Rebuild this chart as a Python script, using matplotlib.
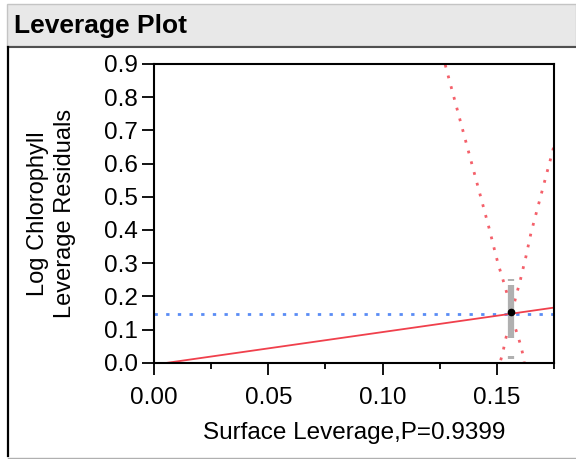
import matplotlib
matplotlib.use("Agg")
import matplotlib.pyplot as plt
from matplotlib.patches import Rectangle
from matplotlib.lines import Line2D
from matplotlib.ticker import MultipleLocator

plt.rcParams['font.family'] = ['Liberation Sans', 'DejaVu Sans']

# values
mean_y = 0.148
reg_x = [0.0, 0.175]
reg_y = [-0.006, 0.166]
point_x = 0.1563
point_y = 0.1536
upper_x = [0.1262, 0.1277, 0.1467, 0.1493, 0.1507, 0.1522, 0.1537, 0.1551, 0.1564,
           0.1576, 0.1588, 0.1602, 0.1614, 0.1627, 0.1649, 0.1743, 0.1760]
upper_y = [0.930, 0.890, 0.403, 0.331, 0.294, 0.261, 0.226, 0.192, 0.172,
           0.179, 0.211, 0.247, 0.282, 0.319, 0.390, 0.635, 0.680]
lower_x = [0.1505, 0.1515, 0.1527, 0.1537, 0.1550, 0.1564, 0.1578, 0.1591, 0.1606, 0.1617, 0.1625]
lower_y = [-0.025, 0.003, 0.033, 0.068, 0.100, 0.115, 0.110, 0.083, 0.048, 0.015, -0.025]
bar_main = (0.073, 0.234)
bar_caps = [(0.245, 0.253), (0.011, 0.019)]
x_label = "Surface Leverage,P=0.9399"
y_label = "Log Chlorophyll\nLeverage Residuals"

W, H = 576, 459
fig = plt.figure(figsize=(W / 100, H / 100), dpi=100)

# panel frame and title bar
def px_rect(x0, y0, x1, y1, **kw):
    fig.patches.append(Rectangle((x0 / W, 1 - y1 / H), (x1 - x0) / W, (y1 - y0) / H,
                                 transform=fig.transFigure, **kw))

px_rect(7, 4, W, 46, facecolor="#e8e8e8", edgecolor="#c4c4c4", lw=1)
fig.lines.append(Line2D([8 / W, 1], [1 - 46.5 / H] * 2, transform=fig.transFigure, color="#505050", lw=1.5))
fig.lines.append(Line2D([8 / W] * 2, [1 - 47 / H, 1 - 456 / H], transform=fig.transFigure, color="black", lw=1.6))
fig.lines.append(Line2D([8 / W, 1], [1 - 457.5 / H] * 2, transform=fig.transFigure, color="#b0b0b0", lw=1))
fig.text(14 / W, 1 - 26 / H, "Leverage Plot", fontsize=19, fontweight="bold", va="center", ha="left")

ax = fig.add_axes([154 / W, 1 - 362.7 / H, 400 / W, 298.7 / H])

red = "#f0404c"
ax.axhline(mean_y, color="#5a8cf5", lw=2, dashes=(1.2, 3))
ax.plot(reg_x, reg_y, color=red, lw=1.3)
ax.plot(upper_x, upper_y, color="#f4606a", lw=2, dashes=(1, 3))
ax.plot(lower_x, lower_y, color="#f4606a", lw=2, dashes=(1, 3))
ax.vlines(point_x, *bar_main, color="#b0b0b0", lw=4.5)
for lo, hi in bar_caps:
    ax.vlines(point_x, lo, hi, color="#b0b0b0", lw=4.5)
ax.plot([point_x], [point_y], "o", color="black", ms=4.5)

ax.set_xlim(0, 0.175)
ax.set_ylim(0, 0.9)
ax.xaxis.set_major_locator(MultipleLocator(0.05))
ax.xaxis.set_minor_locator(MultipleLocator(0.025))
ax.yaxis.set_major_locator(MultipleLocator(0.1))
ax.xaxis.set_major_formatter(lambda v, p: f"{v:.2f}")
ax.yaxis.set_major_formatter(lambda v, p: f"{v:.1f}")

for s in ax.spines.values():
    s.set_linewidth(1.5)
    s.set_color("black")
ax.tick_params(axis="both", which="major", length=8.5, width=1.3, labelsize=17.5, direction="out")
ax.tick_params(axis="x", which="minor", length=4.5, width=1.3)
ax.tick_params(axis="x", pad=9)
ax.tick_params(axis="y", pad=3)

ax.set_xlabel(x_label, fontsize=17.5, labelpad=9)
ax.set_ylabel(y_label, fontsize=17, linespacing=1.3, labelpad=20)

fig.savefig("out.png", dpi=100)
